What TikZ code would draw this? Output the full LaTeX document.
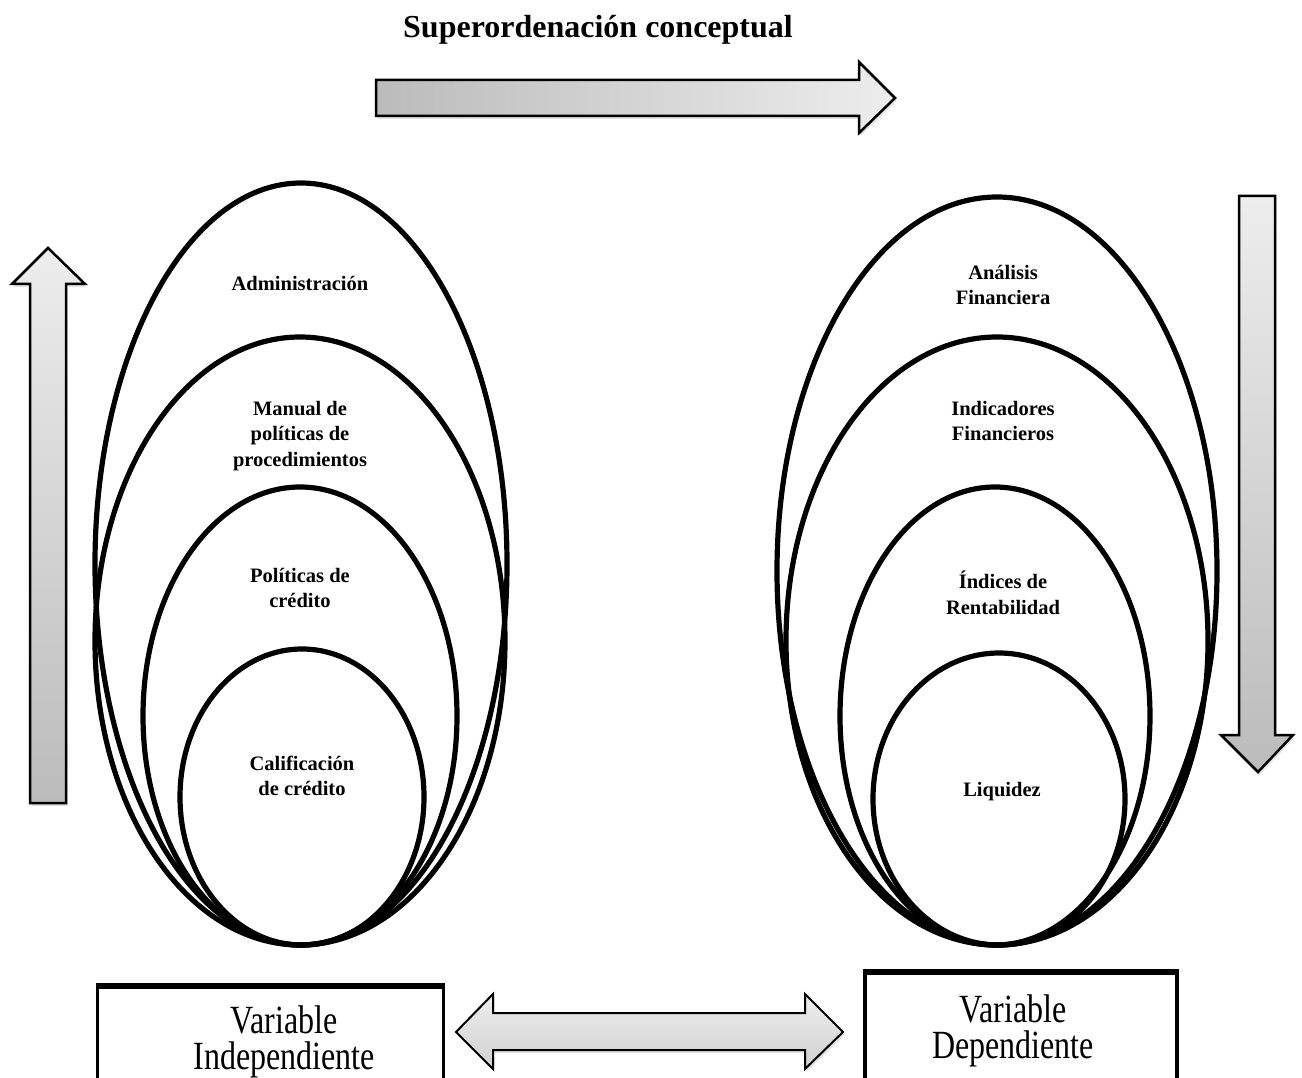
\documentclass[tikz,border=0pt]{standalone}
\usepackage{fontspec}
\setmainfont{Liberation Serif}
\usetikzlibrary{shapes.geometric,shadows}
\definecolor{shLight}{HTML}{EDEDED}
\definecolor{shDark}{HTML}{BBBBBB}
\definecolor{shMid}{HTML}{D0D0D0}
\tikzset{
  ring/.style={ellipse, draw=black, line width=5.2pt, inner sep=0pt, outer sep=0pt},
  lbl/.style={font=\fontsize{20.5}{25.5}\selectfont\bfseries, align=center, inner sep=0pt},
  bigarrow/.style={draw=black, line width=2.5pt, line join=miter,
     drop shadow={opacity=0.22, shadow xshift=1.5pt, shadow yshift=-3pt}},
  vartxt/.style={font=\fontsize{32}{29}\selectfont, inner sep=0pt, align=center,
     transform shape, yscale=1.25},
  varbox/.style={line width=3.5pt, draw=black}
}
\begin{document}
\begin{tikzpicture}[x=1pt,y=-1pt]
\useasboundingbox (0,0) rectangle (1302,1078);
\clip (0,0) rectangle (1302,1078);

% title
\node[font=\fontsize{32}{38}\selectfont\bfseries, inner sep=0pt] (title) at (598,30) {Superordenación conceptual};

% top arrow (left to right)
\path[bigarrow, left color=shDark, right color=shLight]
  (376,80) -- (859,80) -- (859,62) -- (895,98) -- (859,133) -- (859,116) -- (376,116) -- cycle;

% left vertical arrow (up)
\path[bigarrow, top color=shLight, bottom color=shDark]
  (30,803) -- (30,284) -- (12,284) -- (48,248) -- (85,284) -- (66,284) -- (66,803) -- cycle;

% right vertical arrow (down)
\path[bigarrow, top color=shLight, bottom color=shDark]
  (1239,196) -- (1275,196) -- (1275,735) -- (1293,735) -- (1258,772) -- (1221,735) -- (1239,735) -- cycle;

% left ellipses
\node[ring, minimum width=412pt, minimum height=762pt] (L1) at (301,564) {};
\node[ring, minimum width=410pt, minimum height=608pt] (L2) at (300,641) {};
\node[ring, minimum width=314pt, minimum height=458pt] (L3) at (300,716) {};
\node[ring, minimum width=244pt, minimum height=296pt] (L4) at (302,797) {};

\node[lbl] (t1) at (300,283) {Administración};
\node[lbl] (t2) at (300,436) {Manual de\\políticas de\\procedimientos};
\node[lbl] (t3) at (300,588) {Políticas de\\crédito};
\node[lbl] (t4) at (302,776) {Calificación\\de crédito};

% right ellipses
\node[ring, minimum width=440pt, minimum height=748pt] (R1) at (997,571) {};
\node[ring, minimum width=422pt, minimum height=608pt] (R2) at (997,641) {};
\node[ring, minimum width=310pt, minimum height=458pt] (R3) at (995,716) {};
\node[ring, minimum width=252pt, minimum height=292pt] (R4) at (999,799) {};

\node[lbl] (u1) at (1003,285) {Análisis\\Financiera};
\node[lbl] (u2) at (1003,421) {Indicadores\\Financieros};
\node[lbl] (u3) at (1003,593) {Índices de\\Rentabilidad};
\node[lbl] (u4) at (1002,792) {Liquidez};

% boxes
\node[varbox, rectangle, minimum width=346pt, minimum height=120pt, inner sep=0pt] (vi) at (270.5,1047) {};
\draw[line width=5.5pt] (vi.north west) -- (vi.north east);
\node[varbox, rectangle, minimum width=312pt, minimum height=130pt, inner sep=0pt] (vd) at (1021,1038) {};
\draw[line width=5.5pt] (vd.north west) -- (vd.north east);

\node[vartxt] (vitxt) at (284,1042) {Variable\\Independiente};
\node[vartxt] (vdtxt) at (1013,1031) {Variable\\Dependiente};

% double arrow between the boxes
\path[bigarrow, line width=2pt, top color=shLight, bottom color=shMid]
  (456,1032) -- (493,994) -- (493,1013) -- (805,1013) -- (805,994) -- (843,1032)
  -- (805,1069) -- (805,1050) -- (493,1050) -- (493,1069) -- cycle;
\end{tikzpicture}
\end{document}
